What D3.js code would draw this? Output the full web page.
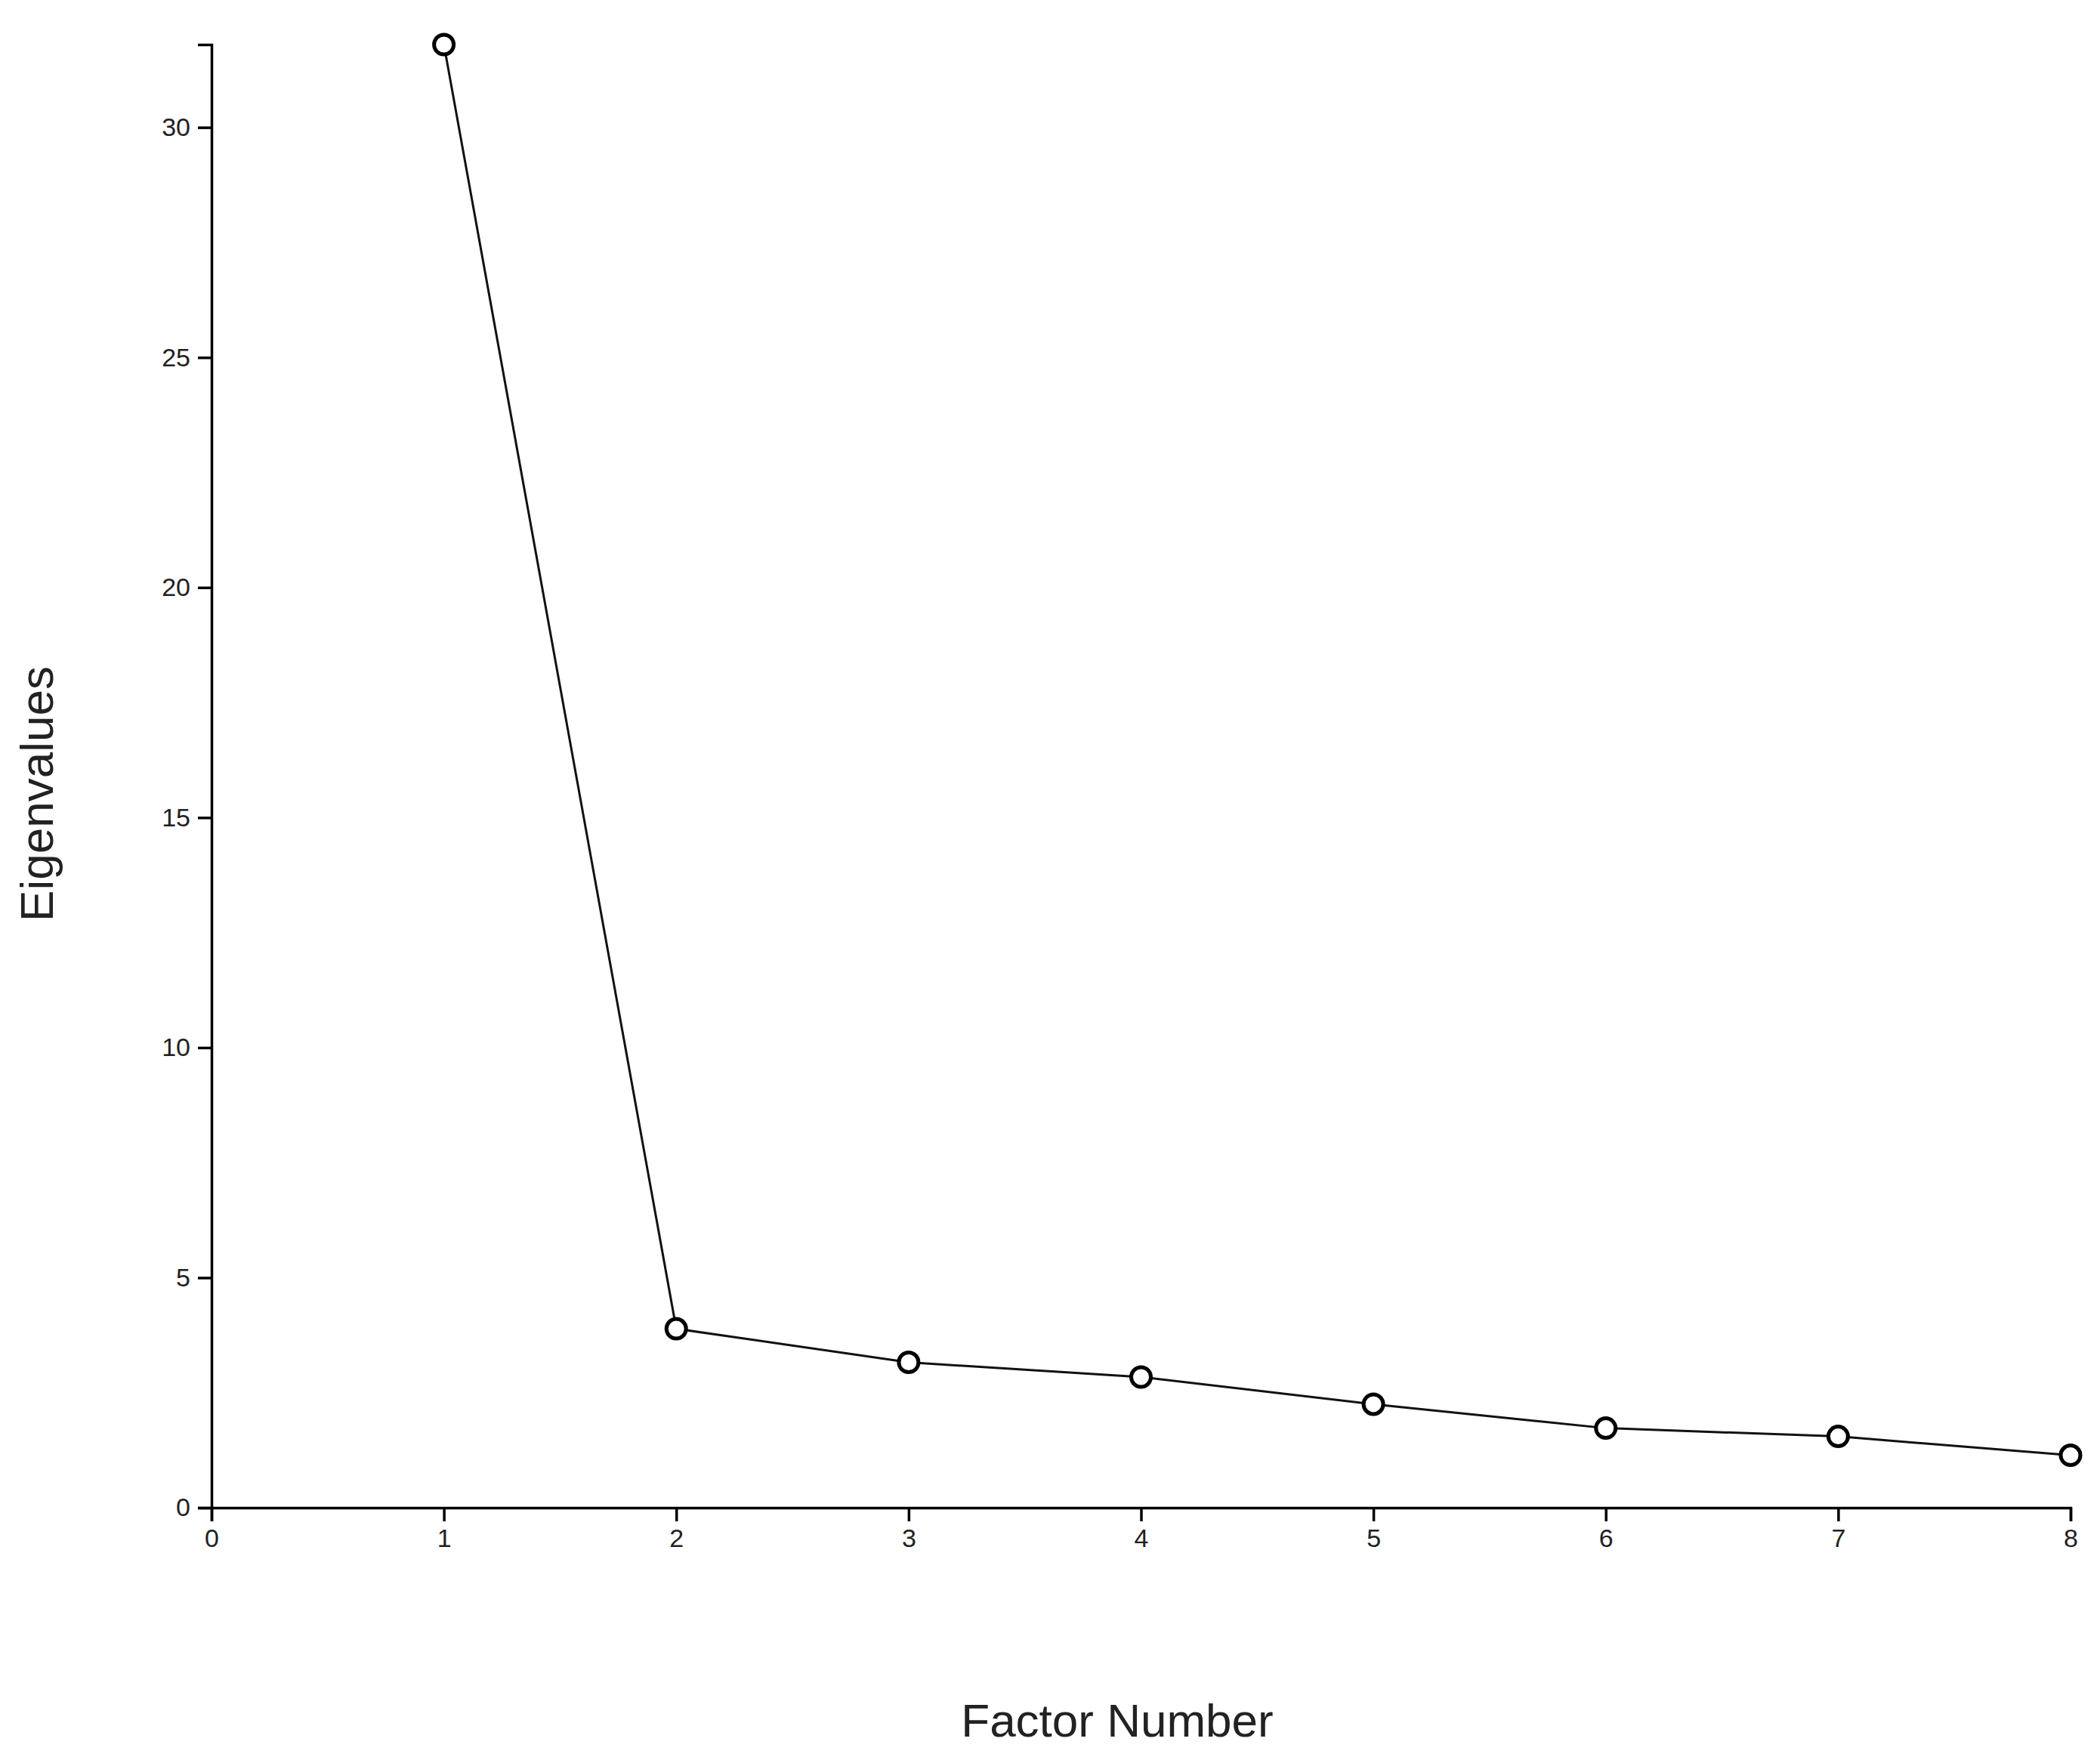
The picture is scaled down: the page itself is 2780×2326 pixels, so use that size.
<!DOCTYPE html>
<html><head><meta charset="utf-8">
<script src="https://cdn.jsdelivr.net/npm/d3@7"></script>
<style>body{margin:0;background:#fff}</style></head>
<body><svg id="c" width="2780" height="2326"></svg>
<script>
const factors = [1,2,3,4,5,6,7,8];
const eigenvalues = [31.8,3.89,3.16,2.84,2.25,1.73,1.55,1.14];
const xTicks = [0,1,2,3,4,5,6,7,8];
const yTicks = [0,5,10,15,20,25,30];

const svg = d3.select('#c');
const x = d3.scaleLinear().domain([0,8]).range([280,2741]);
const y = d3.scaleLinear().domain([0,31.8]).range([1996,59]);

const xa = svg.append('g').attr('transform','translate(0,1996)')
  .call(d3.axisBottom(x).tickValues(xTicks).tickFormat(d3.format('d')).tickSize(18).tickPadding(10));
const ya = svg.append('g').attr('transform','translate(280,0)')
  .call(d3.axisLeft(y).tickValues(yTicks).tickSize(18).tickPadding(10));
[xa,ya].forEach(a=>{
  a.selectAll('path,line').attr('stroke','#000').attr('stroke-width',3.5);
  a.selectAll('text').attr('font-family','Arial, Liberation Sans, sans-serif').attr('font-size',34).attr('fill','#222');
});

svg.append('path').datum(factors.map((f,i)=>[f,eigenvalues[i]]))
  .attr('fill','none').attr('stroke','#111').attr('stroke-width',3)
  .attr('d',d3.line().x(d=>x(d[0])).y(d=>y(d[1])));
svg.selectAll('circle.p').data(factors.map((f,i)=>[f,eigenvalues[i]])).enter().append('circle')
  .attr('cx',d=>x(d[0])).attr('cy',d=>y(d[1])).attr('r',13)
  .attr('fill','#fff').attr('stroke','#000').attr('stroke-width',5);

svg.append('text').attr('x',1479).attr('y',2299).attr('text-anchor','middle')
  .attr('font-family','Arial, Liberation Sans, sans-serif').attr('font-size',62).attr('fill','#222').text('Factor Number');
svg.append('text').attr('transform','translate(70,1051) rotate(-90)').attr('text-anchor','middle')
  .attr('font-family','Arial, Liberation Sans, sans-serif').attr('font-size',62).attr('fill','#222').text('Eigenvalues');
</script></body></html>
